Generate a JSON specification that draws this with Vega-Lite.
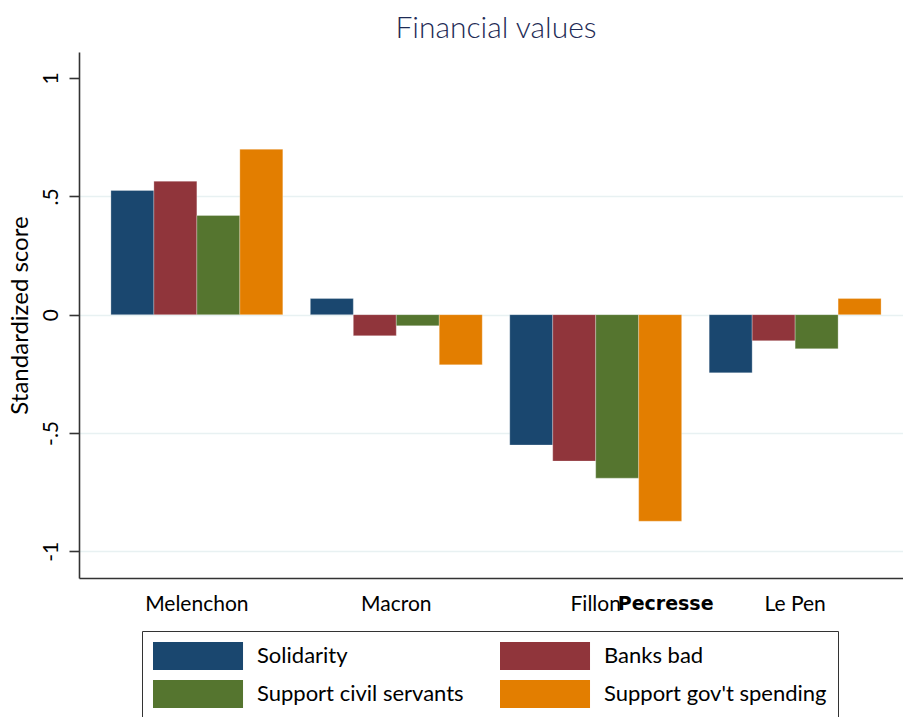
{
  "$schema": "https://vega.github.io/schema/vega-lite/v6.json",
  "autosize": "none",
  "width": 824,
  "height": 526,
  "padding": {"left": 79, "top": 52, "right": 0, "bottom": 139},
  "background": "white",
  "title": {"text": "Financial values", "font": "Lato", "fontSize": 30, "fontWeight": 300, "color": "#1e2b55", "anchor": "middle", "offset": 8, "dx": 5},
  "config": {
    "view": {"stroke": null},
    "font": "Lato",
    "axis": {"labelFont": "Lato", "titleFont": "Lato", "labelColor": "#000", "titleColor": "#000", "domainColor": "#333", "tickColor": "#333"},
    "legend": {"labelFont": "Lato"}
  },
  "datasets": {
    "bars": [
      {"candidate": "Melenchon", "series": "Solidarity", "value": 0.525},
      {"candidate": "Melenchon", "series": "Banks bad", "value": 0.564},
      {"candidate": "Melenchon", "series": "Support civil servants", "value": 0.419},
      {"candidate": "Melenchon", "series": "Support gov't spending", "value": 0.699},
      {"candidate": "Macron", "series": "Solidarity", "value": 0.068},
      {"candidate": "Macron", "series": "Banks bad", "value": -0.089},
      {"candidate": "Macron", "series": "Support civil servants", "value": -0.047},
      {"candidate": "Macron", "series": "Support gov't spending", "value": -0.212},
      {"candidate": "Fillon", "series": "Solidarity", "value": -0.551},
      {"candidate": "Fillon", "series": "Banks bad", "value": -0.619},
      {"candidate": "Fillon", "series": "Support civil servants", "value": -0.691},
      {"candidate": "Fillon", "series": "Support gov't spending", "value": -0.873},
      {"candidate": "Le Pen", "series": "Solidarity", "value": -0.246},
      {"candidate": "Le Pen", "series": "Banks bad", "value": -0.11},
      {"candidate": "Le Pen", "series": "Support civil servants", "value": -0.144},
      {"candidate": "Le Pen", "series": "Support gov't spending", "value": 0.068}
    ],
    "extra": [
      {"candidate": "Fillon", "label": "Pecresse"}
    ]
  },
  "layer": [
    {
      "data": {"name": "bars"},
      "mark": {"type": "bar", "stroke": "white", "strokeOpacity": 0.35, "strokeWidth": 0.8},
      "encoding": {
        "x": {
          "field": "candidate", "type": "nominal",
          "sort": ["Melenchon", "Macron", "Fillon", "Le Pen"],
          "scale": {"domain": ["Melenchon", "Macron", "Fillon", "Le Pen"], "range": [0, 834], "paddingInner": 0.138, "paddingOuter": 0.16},
          "axis": {"title": null, "labelAngle": 0, "labelFontSize": 21, "ticks": false, "tickSize": 0, "labelPadding": 15, "domainWidth": 1.6, "grid": false, "labelBaseline": "top"}
        },
        "xOffset": {
          "field": "series", "type": "nominal",
          "scale": {"domain": ["Solidarity", "Banks bad", "Support civil servants", "Support gov't spending"], "paddingInner": 0, "paddingOuter": 0}
        },
        "y": {
          "field": "value", "type": "quantitative",
          "scale": {"domain": [-1.113, 1.11], "nice": false, "zero": false},
          "axis": {
            "title": "Standardized score", "titleFontSize": 24, "titleFontWeight": "normal", "titlePadding": 8,
            "values": [-1, -0.5, 0, 0.5, 1],
            "labelExpr": "datum.value == 1 ? '1' : datum.value == 0.5 ? '.5' : datum.value == 0 ? '0' : datum.value == -0.5 ? '-.5' : '-1'",
            "labelAngle": -90, "labelAlign": "center", "labelBaseline": "bottom", "labelFontSize": 21, "labelPadding": 8,
            "tickSize": 10, "tickWidth": 1.6, "domainWidth": 1.6,
            "grid": true, "gridWidth": 1.6,
            "gridColor": {"condition": {"test": "datum.value == 1", "value": "transparent"}, "value": "#e8f1f2"}
          }
        },
        "color": {
          "field": "series", "type": "nominal",
          "scale": {"domain": ["Solidarity", "Banks bad", "Support civil servants", "Support gov't spending"], "range": ["#1a476f", "#90353b", "#55752f", "#e37e00"]},
          "legend": {
            "title": null, "orient": "none", "legendX": 63, "legendY": 579, "direction": "horizontal", "columns": 2,
            "symbolType": "M-1,-1H5.43V1H-1Z", "symbolSize": 784, "symbolStrokeWidth": 0, "symbolOpacity": 1,
            "labelFontSize": 22, "labelOffset": 76, "rowPadding": 10, "columnPadding": 36, "padding": 11,
            "strokeColor": "#333", "labelColor": "#000", "labelLimit": 400
          }
        }
      }
    },
    {
      "data": {"name": "extra"},
      "mark": {"type": "text", "font": "DejaVu Sans", "fontWeight": "bold", "fontSize": 19, "align": "left", "baseline": "top", "dx": 22, "dy": 17},
      "encoding": {
        "x": {"field": "candidate", "type": "nominal", "sort": ["Melenchon", "Macron", "Fillon", "Le Pen"]},
        "y": {"datum": -1.113},
        "text": {"field": "label"},
        "color": {"value": "#000"}
      }
    }
  ]
}
